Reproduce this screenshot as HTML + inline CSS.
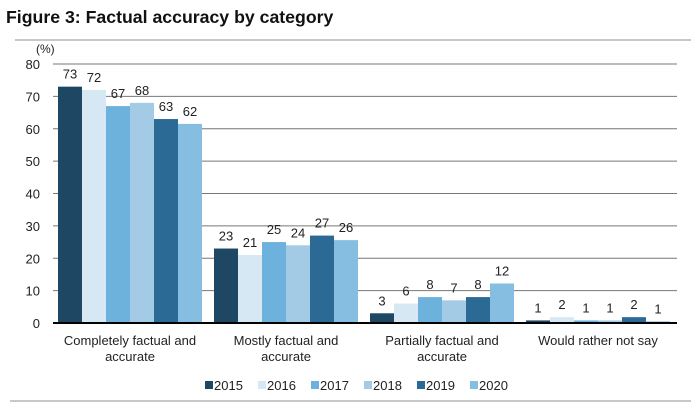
<!DOCTYPE html>
<html><head><meta charset="utf-8"><style>
body{margin:0;background:#fff;width:698px;height:408px;overflow:hidden;font-family:"Liberation Sans",sans-serif}
svg text{font-family:"Liberation Sans",sans-serif}
</style></head><body>
<svg id="c" width="698" height="408">
<text x="6" y="23" font-size="17.7" font-weight="bold" fill="#111">Figure 3: Factual accuracy by category</text>
<rect x="15" y="39" width="676" height="2" fill="#c8c8c8"/>
<rect x="10" y="400" width="681" height="2" fill="#c8c8c8"/>
<text x="36" y="53" font-size="12" fill="#222">(%)</text>
</svg>
<script>
const categories=[["Completely factual and","accurate"],["Mostly factual and","accurate"],["Partially factual and","accurate"],["Would rather not say"]];
const years=["2015","2016","2017","2018","2019","2020"];
const colors=["#1e4764","#d7e8f5","#6db2dc","#a3cbe6","#2a6a95","#86bee2"];
const v2015=[73,23,3,0.8];
const v2016=[72,21,6,1.8];
const v2017=[67,25,8,0.8];
const v2018=[68,24,7,0.8];
const v2019=[63,27,8,1.8];
const v2020=[61.5,25.6,12.2,0.5];
const l2015=["73","23","3","1"];
const l2016=["72","21","6","2"];
const l2017=["67","25","8","1"];
const l2018=["68","24","7","1"];
const l2019=["63","27","8","2"];
const l2020=["62","26","12","1"];
const yTicks=[0,10,20,30,40,50,60,70,80];
const series=[v2015,v2016,v2017,v2018,v2019,v2020];
const labels=[l2015,l2016,l2017,l2018,l2019,l2020];
const svg=document.getElementById('c');const NS='http://www.w3.org/2000/svg';
const X0=53,X1=677,Y0=323,Y80=64;
const y=v=>Y0-(v/80)*(Y0-Y80);
const gW=156,bW=24,gOff=5;
const x=(c,s)=>X0+gOff+c*gW+s*bW;
function mk(t,a){const e=document.createElementNS(NS,t);for(const k in a)e.setAttribute(k,a[k]);svg.appendChild(e);return e;}
yTicks.forEach(t=>{
 if(t>0){const g=mk('line',{x1:X0,x2:X1,y1:y(t),y2:y(t),stroke:'#777','stroke-width':1});
 
 }
 const tx=mk('text',{x:40,y:y(t)+5,'font-size':13,'text-anchor':'end',fill:'#222'});tx.textContent=t;
 
 
});
series.forEach((vals,s)=>{vals.forEach((v,c)=>{
 const r=mk('rect',{x:x(c,s),y:y(v),width:bW,height:Y0-y(v),fill:colors[s]});
 
 
 const t=mk('text',{x:x(c,s)+bW/2,y:y(v)-8,'font-size':13,'text-anchor':'middle',fill:'#222'});t.textContent=labels[s][c];
 
 
});});
const ax=mk('line',{x1:X0,x2:X1,y1:Y0,y2:Y0,stroke:'#000','stroke-width':2});


categories.forEach((lines,c)=>{lines.forEach((ln,i)=>{
 const t=mk('text',{x:x(c,0)+3*bW,y:345+i*16,'font-size':13,'text-anchor':'middle',fill:'#222'});t.textContent=ln;
 
 
});});
let lx=205;
years.forEach((yr,s)=>{
 const r=mk('rect',{x:lx,y:381,width:8,height:8,fill:colors[s]});
 
 
 const t=mk('text',{x:lx+9,y:390,'font-size':13,fill:'#222'});t.textContent=yr;
 
 
 lx+=53;
});
</script>
</body></html>
